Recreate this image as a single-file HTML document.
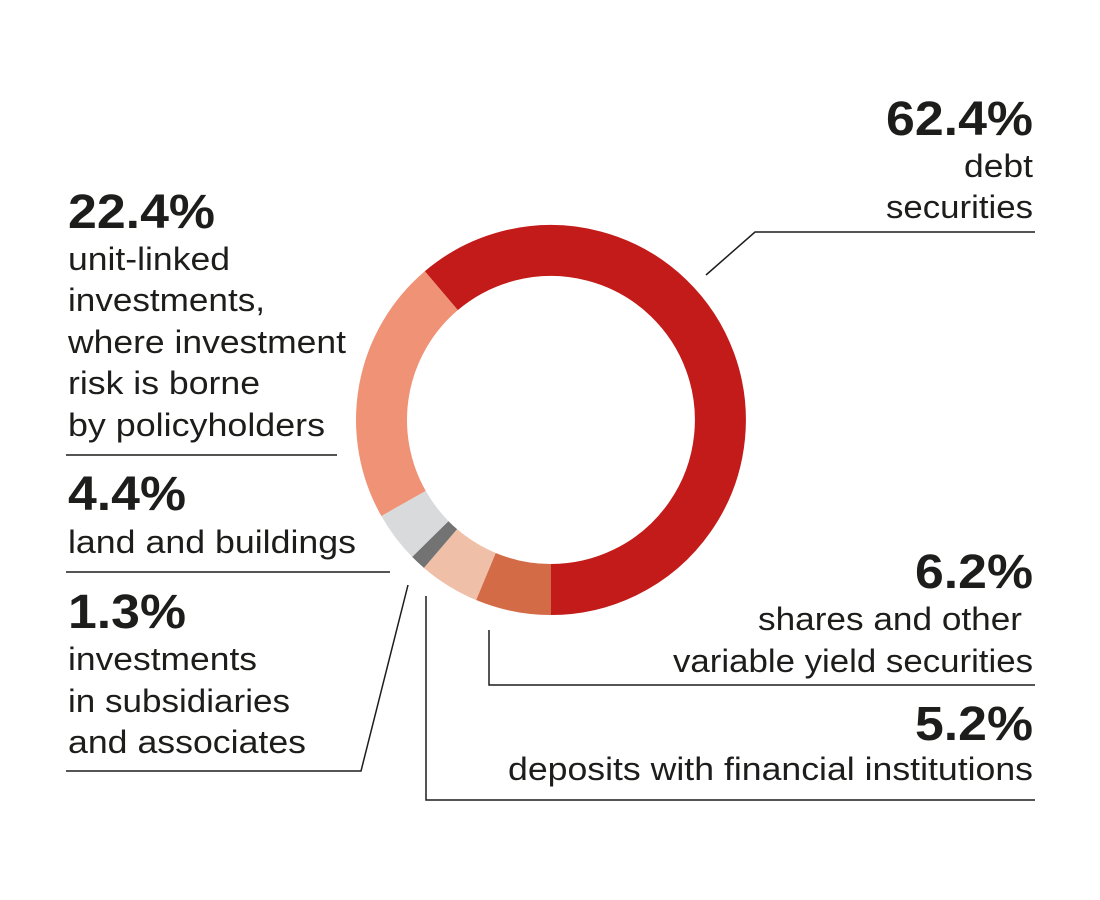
<!DOCTYPE html>
<html><head><meta charset="utf-8"><style>
html,body{margin:0;padding:0;background:#fff;}
svg{display:block;}
text{font-family:"Liberation Sans",Arial,sans-serif;fill:#1d1d1b;}
.n{font-weight:bold;font-size:48px;}
.l{font-size:32px;}
</style></head><body>
<svg width="1100" height="900" viewBox="0 0 1100 900" xmlns="http://www.w3.org/2000/svg">
<g fill="none" stroke-width="51">
<path d="M441.3,290.7 A169.5,169.5 0 1 1 551,589.5" stroke="#c21b19"/>
<path d="M551,589.5 A169.5,169.5 0 0 1 485.9,576.5" stroke="#d36b47"/>
<path d="M485.9,576.5 A169.5,169.5 0 0 1 440.5,548.5" stroke="#efbfa8"/>
<path d="M440.5,548.5 A169.5,169.5 0 0 1 430.3,539.0" stroke="#737373"/>
<path d="M430.3,539.0 A169.5,169.5 0 0 1 403.5,503.4" stroke="#d9dadb"/>
<path d="M403.5,503.4 A169.5,169.5 0 0 1 441.3,290.7" stroke="#f09275"/>
</g>
<g stroke="#1d1d1b" stroke-width="1.5" fill="none">
<polyline points="706,275 755,232 1035,232"/>
<line x1="66" y1="455" x2="337" y2="455"/>
<line x1="66" y1="572" x2="390" y2="572"/>
<polyline points="66,771 361,771 408,585"/>
<polyline points="489,630 489,685 1035,685"/>
<polyline points="426,596 426,800 1035,800"/>
</g>
<g lengthAdjust="spacingAndGlyphs">
<text class="n" x="68" y="228" textLength="147" lengthAdjust="spacingAndGlyphs">22.4%</text>
<text class="l" x="68" y="270" textLength="162" lengthAdjust="spacingAndGlyphs">unit-linked</text>
<text class="l" x="68" y="311" textLength="197" lengthAdjust="spacingAndGlyphs">investments,</text>
<text class="l" x="68" y="353" textLength="278" lengthAdjust="spacingAndGlyphs">where investment</text>
<text class="l" x="68" y="394" textLength="192" lengthAdjust="spacingAndGlyphs">risk is borne</text>
<text class="l" x="68" y="436" textLength="257" lengthAdjust="spacingAndGlyphs">by policyholders</text>
<text class="n" x="68" y="510" textLength="118" lengthAdjust="spacingAndGlyphs">4.4%</text>
<text class="l" x="68" y="553" textLength="288" lengthAdjust="spacingAndGlyphs">land and buildings</text>
<text class="n" x="68" y="628" textLength="118" lengthAdjust="spacingAndGlyphs">1.3%</text>
<text class="l" x="68" y="670" textLength="189" lengthAdjust="spacingAndGlyphs">investments</text>
<text class="l" x="68" y="712" textLength="222" lengthAdjust="spacingAndGlyphs">in subsidiaries</text>
<text class="l" x="68" y="753" textLength="238" lengthAdjust="spacingAndGlyphs">and associates</text>
<text class="n" x="886" y="135" textLength="147" lengthAdjust="spacingAndGlyphs">62.4%</text>
<text class="l" x="964" y="177" textLength="69" lengthAdjust="spacingAndGlyphs">debt</text>
<text class="l" x="886" y="218" textLength="147" lengthAdjust="spacingAndGlyphs">securities</text>
<text class="n" x="915" y="588" textLength="118" lengthAdjust="spacingAndGlyphs">6.2%</text>
<text class="l" x="758" y="630" textLength="264" lengthAdjust="spacingAndGlyphs">shares and other</text>
<text class="l" x="673" y="672" textLength="360" lengthAdjust="spacingAndGlyphs">variable yield securities</text>
<text class="n" x="915" y="740" textLength="118" lengthAdjust="spacingAndGlyphs">5.2%</text>
<text class="l" x="508" y="780" textLength="525" lengthAdjust="spacingAndGlyphs">deposits with financial institutions</text>
</g>
</svg>
</body></html>
